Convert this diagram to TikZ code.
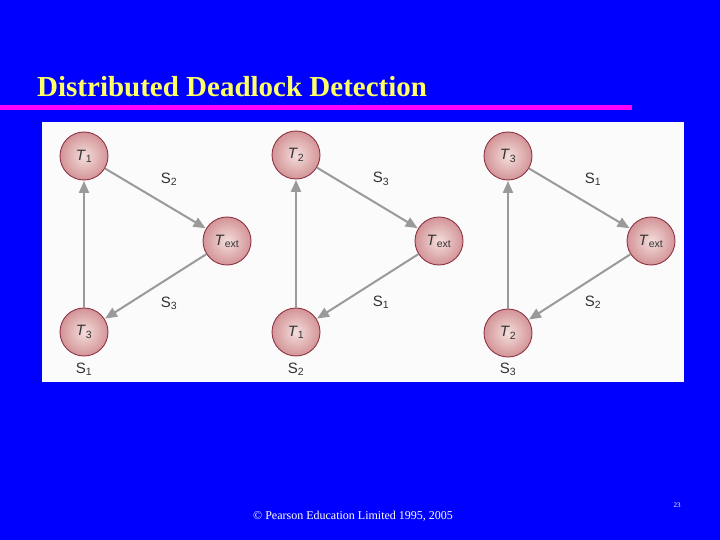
\documentclass[tikz,border=0pt]{standalone}
\usepackage{fontspec}
\setmainfont{Liberation Serif}
\setsansfont{Liberation Sans}
\usetikzlibrary{arrows.meta}
\definecolor{bgblue}{HTML}{0000FF}
\definecolor{titleyellow}{HTML}{FFFF66}
\definecolor{barmag}{HTML}{FF00FF}
\definecolor{panelwhite}{HTML}{FBFBFB}
\definecolor{edgegray}{HTML}{9A9A9A}
\definecolor{ringred}{HTML}{8E3445}
\definecolor{ballin}{HTML}{F4DEDC}
\definecolor{ballout}{HTML}{D39497}
\definecolor{labgray}{HTML}{333333}
\tikzset{
  proc/.style={circle, minimum size=48pt, inner sep=0pt, draw=ringred, line width=0.9pt,
    shading=radial, inner color=ballin, outer color=ballout,
    font=\sffamily\fontsize{15}{16}\selectfont, text=labgray},
  edge/.style={draw=edgegray, line width=2pt, -{Triangle[length=12pt,width=10pt]}, shorten >=0.5pt},
  slab/.style={font=\sffamily\fontsize{15}{16}\selectfont, text=labgray}
}
\begin{document}
\begin{tikzpicture}[x=1pt,y=-1pt]
\fill[bgblue] (0,0) rectangle (720,540);
\useasboundingbox (0,0) rectangle (720,540);
\node[anchor=base west, text=titleyellow, font=\bfseries\fontsize{29}{33}\selectfont, inner sep=0pt] (title) at (37,97) {Distributed Deadlock Detection};
\fill[barmag] (0,105) rectangle (632,110);
\fill[panelwhite] (42,122) rectangle (684,382);
% panel 1
\node[proc] (a1) at (84,156) {\textit{T}\textsubscript{1}};
\node[proc] (ae) at (227,241) {\textit{T}\textsubscript{ext}};
\node[proc] (a3) at (84,332) {\textit{T}\textsubscript{3}};
\draw[edge] (a1) -- (ae);
\draw[edge] (ae) -- (a3);
\draw[edge] (a3) -- (a1);
\node[slab] (as2) at (169,179) {S\textsubscript{2}};
\node[slab] (as3) at (169,303) {S\textsubscript{3}};
\node[slab] (as1) at (84,369) {S\textsubscript{1}};
% panel 2
\node[proc] (b2) at (296,155) {\textit{T}\textsubscript{2}};
\node[proc] (be) at (439,241) {\textit{T}\textsubscript{ext}};
\node[proc] (b1) at (296,332) {\textit{T}\textsubscript{1}};
\draw[edge] (b2) -- (be);
\draw[edge] (be) -- (b1);
\draw[edge] (b1) -- (b2);
\node[slab] (bs3) at (381,179) {S\textsubscript{3}};
\node[slab] (bs1) at (381,302) {S\textsubscript{1}};
\node[slab] (bs2) at (296,369) {S\textsubscript{2}};
% panel 3
\node[proc] (c3) at (508,156) {\textit{T}\textsubscript{3}};
\node[proc] (ce) at (651,241) {\textit{T}\textsubscript{ext}};
\node[proc] (c2) at (508,333) {\textit{T}\textsubscript{2}};
\draw[edge] (c3) -- (ce);
\draw[edge] (ce) -- (c2);
\draw[edge] (c2) -- (c3);
\node[slab] (cs1) at (593,179) {S\textsubscript{1}};
\node[slab] (cs2) at (593,302) {S\textsubscript{2}};
\node[slab] (cs3) at (508,369) {S\textsubscript{3}};
% footer
\node[anchor=base west, text=white, font=\fontsize{12}{14}\selectfont, inner sep=0pt] (foot) at (253,519) {© Pearson Education Limited 1995, 2005};
\node[text=white, font=\fontsize{7}{8}\selectfont, inner sep=0pt] (pg) at (677,505) {23};
\end{tikzpicture}
\end{document}
